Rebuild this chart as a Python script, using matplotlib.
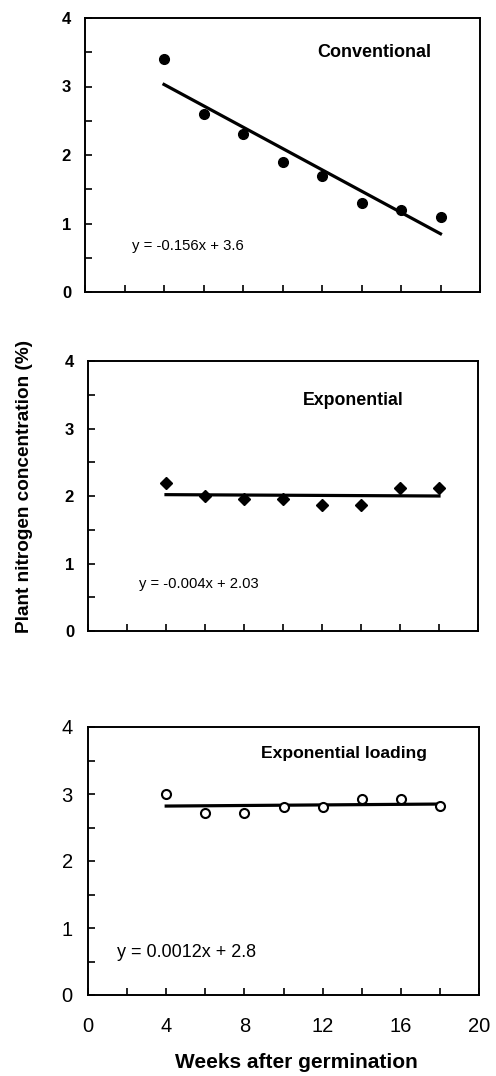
import matplotlib
matplotlib.use('Agg')
import matplotlib.pyplot as plt
import numpy as np

plt.rcParams['font.family'] = ['Liberation Sans', 'DejaVu Sans']

# data
weeks = [4, 6, 8, 10, 12, 14, 16, 18]
conv = [3.4, 2.6, 2.3, 1.9, 1.7, 1.3, 1.2, 1.1]
expo = [2.2, 2.0, 1.95, 1.95, 1.86, 1.86, 2.12, 2.12]
expl = [3.0, 2.71, 2.71, 2.81, 2.81, 2.92, 2.92, 2.82]

fit_x = [4, 18]
conv_fit = [3.03, 0.85]
expo_fit = [2.02, 2.0]
expl_fit = [2.82, 2.85]

titles = ['Conventional', 'Exponential', 'Exponential loading']
eqs = ['y = -0.156x + 3.6', 'y = -0.004x + 2.03', 'y = 0.0012x + 2.8']

fig = plt.figure(figsize=(4.96, 10.76), dpi=100)
W, H = 496.0, 1076.0

def make_ax(l, r, t, b):
    return fig.add_axes([l / W, 1 - b / H, (r - l) / W, (b - t) / H])

ax1 = make_ax(85, 480, 18, 292)
ax2 = make_ax(88, 478, 361, 631)
ax3 = make_ax(88, 479, 727, 995)

series = [
    (ax1, conv, conv_fit, dict(marker='o', ms=7, mfc='black', mec='black')),
    (ax2, expo, expo_fit, dict(marker='D', ms=6, mfc='black', mec='black')),
    (ax3, expl, expl_fit, dict(marker='o', ms=6.5, mfc='white', mec='black', mew=1.5)),
]

for i, (ax, vals, fit, mk) in enumerate(series):
    ax.plot(weeks, vals, ls='none', zorder=3, **mk)
    ax.plot(fit_x, fit, color='black', lw=2.3, zorder=2)
    ax.set_xlim(0, 20)
    ax.set_ylim(0, 4)
    ax.set_xticks(np.arange(0, 21, 2))
    ax.set_yticks([0, 1, 2, 3, 4])
    ax.set_yticks(np.arange(0.5, 4, 1), minor=True)
    for s in ax.spines.values():
        s.set_linewidth(1.4)
    ax.tick_params(direction='in', length=5, width=1.2)
    ax.tick_params(which='minor', direction='in', length=5, width=1.2)
    ax.tick_params(axis='x', which='minor', bottom=False)
    if i < 2:
        ax.set_xticklabels([])
        ax.tick_params(axis='y', labelsize=12, pad=10)
        for lab in ax.get_yticklabels():
            lab.set_fontweight('bold')
    else:
        ax.set_xticks(np.arange(0, 21, 2))
        ax.set_xticklabels([str(v) if v % 4 == 0 else '' for v in range(0, 21, 2)])
        ax.tick_params(axis='y', labelsize=14.5, pad=11)
        ax.tick_params(axis='x', labelsize=14.5, pad=16)

ax1.text(11.75, 3.5, titles[0], fontsize=13, fontweight='bold', va='center')
ax1.text(2.4, 0.67, eqs[0], fontsize=10.7, va='center')
ax2.text(11.0, 3.42, titles[1], fontsize=12.8, fontweight='bold', va='center')
ax2.text(2.6, 0.69, eqs[1], fontsize=10.6, va='center')
ax3.text(8.85, 3.61, titles[2], fontsize=12.6, fontweight='bold', va='center')
ax3.text(1.5, 0.63, eqs[2], fontsize=13, va='center')

fig.text(25 / W, 1 - 486 / H, 'Plant nitrogen concentration (%)', rotation=90,
         fontsize=13.7, fontweight='bold', ha='center', va='center')
fig.text(296 / W, 1 - 1062 / H, 'Weeks after germination', fontsize=15,
         fontweight='bold', ha='center', va='center')

fig.savefig('out.png', dpi=100)
